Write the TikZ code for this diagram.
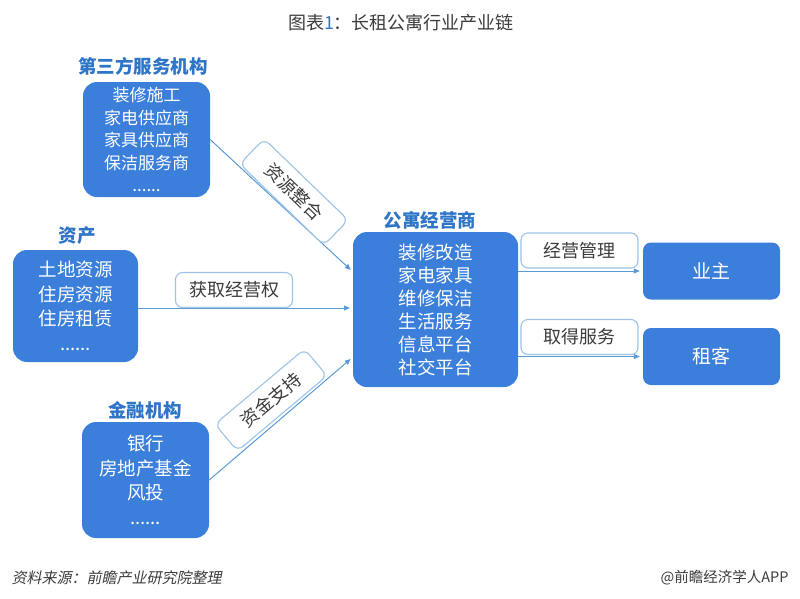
\documentclass[tikz,border=0pt]{standalone}
\usepackage{fontspec}
\setmainfont{Noto Sans CJK SC}
\newfontfamily\slfont{Noto Sans CJK SC}[FakeSlant=0.2]
\usetikzlibrary{arrows.meta}
\definecolor{boxblue}{RGB}{59,127,219}
\definecolor{grpblue}{RGB}{46,117,200}
\definecolor{lineblue}{RGB}{91,155,213}
\definecolor{lblue}{RGB}{157,195,230}
\definecolor{txtgray}{RGB}{60,60,60}
\tikzset{
  bbox/.style={fill=boxblue, rounded corners=14pt, text=white, align=center, inner sep=0pt},
  sbox/.style={fill=boxblue, rounded corners=8pt, text=white, inner sep=0pt,
    minimum width=137pt, minimum height=57pt, font=\fontsize{19}{22}\selectfont},
  lbl/.style={draw=lblue, line width=1.1pt, fill=white, rounded corners=7pt, text=txtgray,
    inner sep=0pt, minimum width=117pt, minimum height=35pt, font=\fontsize{18}{20}\selectfont},
  grp/.style={text=grpblue, font=\bfseries\fontsize{18.5}{20}\selectfont},
  arr/.style={draw=lineblue, line width=1pt, shorten >=3pt, -{Triangle[length=6pt,width=5pt]}}
}
\begin{document}
\begin{tikzpicture}[x=1pt,y=-1pt]
\useasboundingbox[fill=white] (0,0) rectangle (800,598);

% title
\node[text=txtgray, font=\fontsize{18}{20}\selectfont] (title) at (401,23)
  {图表{\color{grpblue}1}：长租公寓行业产业链};

% left boxes
\node[bbox, minimum width=127pt, minimum height=115pt, font=\fontsize{17}{22.5}\selectfont]
  (tp) at (146.5,139.5) {装修施工\\家电供应商\\家具供应商\\保洁服务商\\......};
\node[grp] (tpl) at (143,66) {第三方服务机构};

\node[bbox, minimum width=125pt, minimum height=112pt, font=\fontsize{18.5}{24.5}\selectfont]
  (as) at (75.5,306) {土地资源\\住房资源\\住房租赁\\......};
\node[grp] (asl) at (77,236) {资产};

\node[bbox, minimum width=127pt, minimum height=116pt, font=\fontsize{18.5}{24.5}\selectfont]
  (fi) at (145.5,480) {银行\\房地产基金\\风投\\......};
\node[grp] (fil) at (145,410) {金融机构};

% center
\node[bbox, minimum width=165pt, minimum height=155pt, font=\fontsize{18.5}{23}\selectfont]
  (ctr) at (435.5,309.5) {装修改造\\家电家具\\维修保洁\\生活服务\\信息平台\\社交平台};
\node[grp] (ctrl) at (430,220) {公寓经营商};

% right
\node[sbox] (yz) at (711.5,271) {业主};
\node[sbox] (zk) at (711.5,356.5) {租客};

% connector ends
\coordinate (e1) at (353,272);
\coordinate (e2) at (353,308);
\coordinate (e3) at (353,357);

\draw[arr] (tp.east) -- (e1);
\draw[arr] (as.east |- e2) -- (e2);
\draw[arr] (fi.east) -- (e3);
\draw[arr] (ctr.east |- yz.west) -- (yz.west);
\draw[arr] (ctr.east |- zk.west) -- (zk.west);

% labels
\node[lbl, rotate=-44] (l1) at (294,192) {资源整合};
\node[lbl] (l2) at (234,290) {获取经营权};
\node[lbl, rotate=40] (l3) at (271,400) {资金支持};
\node[lbl] (l4) at (579.5,250.5) {经营管理};
\node[lbl] (l5) at (579.5,337) {取得服务};

% footer
\node[anchor=west, text=txtgray, font=\slfont\fontsize{15}{17}\selectfont] (src) at (8,578) {资料来源：前瞻产业研究院整理};
\node[anchor=east, text=txtgray, font=\fontsize{14.5}{17}\selectfont] (app) at (792,578) {@前瞻经济学人APP};
\end{tikzpicture}
\end{document}
